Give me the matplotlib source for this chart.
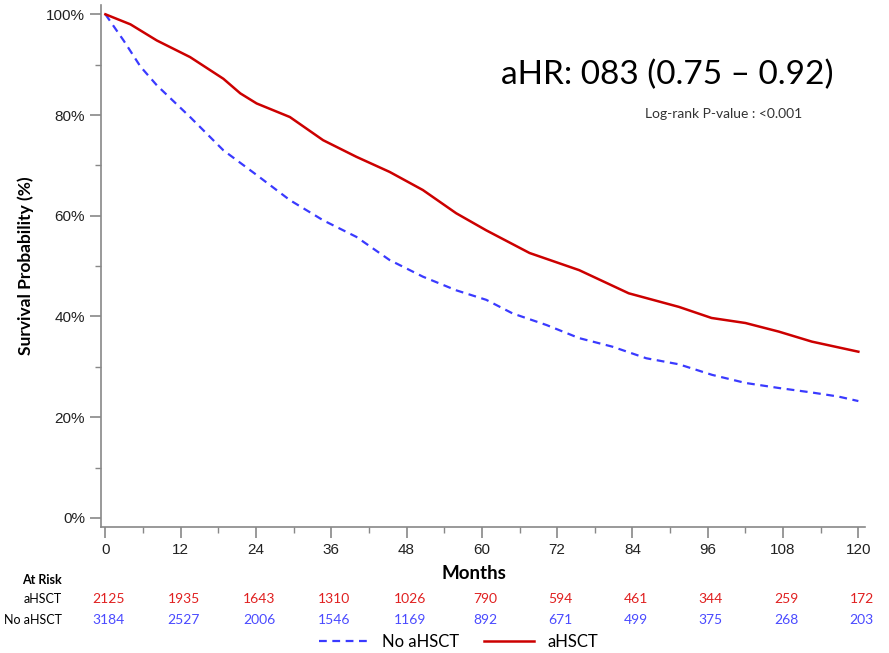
import numpy as np
import matplotlib.pyplot as plt

# Kaplan-Meier estimates (months, survival %)
months_hsct = [0, 4, 8.2, 13.5, 18.8, 21.5, 24.1, 29.4, 34.7, 40, 45.3, 50.6, 55.9, 60.7,
               67.6, 75.5, 83.4, 91.4, 96.6, 102, 107.3, 112.6, 116.3, 120]
surv_hsct = [100, 98, 94.8, 91.5, 87.2, 84.3, 82.3, 79.6, 75, 71.7, 68.7, 65.1, 60.5, 57.1,
             52.6, 49.2, 44.6, 41.9, 39.7, 38.7, 37, 35, 34, 33]

months_no = [0, 2.9, 5.6, 8.2, 13.5, 18.8, 24.1, 29.4, 34.7, 40, 45.3, 50.6, 55.9, 60.7,
             64.9, 70.3, 75.5, 80.8, 86.2, 91.4, 96.7, 102, 107.3, 112.6, 116.8, 120]
surv_no = [100, 94.8, 89.6, 85.9, 79.6, 73, 68.1, 63.1, 59.1, 55.8, 51.2, 47.9, 45.2, 43.3,
           40.6, 38.3, 35.7, 34, 31.7, 30.5, 28.4, 26.8, 25.8, 24.9, 24.1, 23.2]

risk_times = [0, 12, 24, 36, 48, 60, 72, 84, 96, 108, 120]
risk_hsct = [2125, 1935, 1643, 1310, 1026, 790, 594, 461, 344, 259, 172]
risk_no = [3184, 2527, 2006, 1546, 1169, 892, 671, 499, 375, 268, 203]

RED = '#cc0000'
BLUE = '#3a3aff'
GRAY = '#888888'
TXT = 'Lato'

fig = plt.figure(figsize=(8.89, 6.53), dpi=100)
ax = fig.add_axes([0.1136, 0.193, 0.859, 0.799])

ln_no, = ax.plot(months_no, surv_no, color=BLUE, lw=1.6, ls=(0, (3.5, 2.5)))
ln_hsct, = ax.plot(months_hsct, surv_hsct, color=RED, lw=1.8)

ax.set_xlim(-0.7, 121)
ax.set_ylim(-1.8, 101.8)
for s in ['top', 'right']:
    ax.spines[s].set_visible(False)
for s in ['left', 'bottom']:
    ax.spines[s].set_color(GRAY)
    ax.spines[s].set_linewidth(1.2)

ax.set_xticks(np.arange(0, 121, 12))
ax.set_xticks(np.arange(0, 121, 6), minor=True)
ax.set_yticks(np.arange(0, 101, 20))
ax.set_yticks(np.arange(0, 101, 10), minor=True)
ax.set_yticklabels([f'{v}%' for v in range(0, 101, 20)])
ax.tick_params(axis='both', which='major', length=8, width=1.2, color=GRAY,
               labelsize=11, labelcolor='#222222')
ax.tick_params(axis='both', which='minor', length=4, width=1, color=GRAY)
for lab in ax.get_xticklabels() + ax.get_yticklabels():
    lab.set_family('Liberation Sans')

ax.set_ylabel('Survival Probability (%)', fontsize=12.5, fontweight='bold', family=TXT, labelpad=9)
ax.set_xlabel('Months', fontsize=13.5, fontweight='bold', family=TXT)
ax.xaxis.set_label_coords(0.488, -0.072)

fig.text(0.563, 0.885, 'aHR: 083 (0.75 \u2013 0.92)', fontsize=24, family=TXT, va='center')
fig.text(0.726, 0.825, 'Log-rank P-value : <0.001', fontsize=10, family=TXT,
         color='#333333', va='center')

# number at risk table
fig.text(0.070, 1 - 580 / 653, 'At Risk', fontsize=9, fontweight='bold', family=TXT,
         ha='right', va='center')
fig.text(0.070, 1 - 599 / 653, 'aHSCT', fontsize=9, family=TXT, ha='right', va='center')
fig.text(0.070, 1 - 620 / 653, 'No aHSCT', fontsize=9, family=TXT, ha='right', va='center')
y_h = (1 - 599 / 653 - 0.193) / 0.799 * 103.6 - 1.8
y_n = (1 - 620 / 653 - 0.193) / 0.799 * 103.6 - 1.8
for t, a, b in zip(risk_times, risk_hsct, risk_no):
    ax.text(t + 0.5, y_h, str(a), color='#e02020', fontsize=10, family=TXT,
            ha='center', va='center', clip_on=False)
    ax.text(t + 0.5, y_n, str(b), color='#4a4aff', fontsize=10, family=TXT,
            ha='center', va='center', clip_on=False)

fig.legend([ln_no, ln_hsct], ['No aHSCT', 'aHSCT'], loc='center',
           bbox_to_anchor=(0.516, 1 - 642 / 653), ncol=2, frameon=False,
           prop={'family': TXT, 'size': 12}, handlelength=3, columnspacing=1.5)

fig.savefig('out.png', dpi=100)
